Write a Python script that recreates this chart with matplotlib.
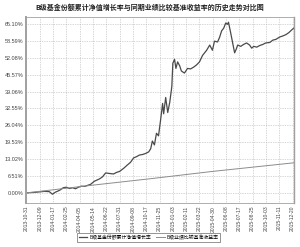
import matplotlib
matplotlib.use("Agg")
import matplotlib.pyplot as plt
import pandas as pd

plt.rcParams['font.family'] = ['Liberation Sans', 'Noto Sans CJK SC', 'DejaVu Sans']

title = "B级基金份额累计净值增长率与同期业绩比较基准收益率的历史走势对比图"
label_nav = "B级基金份额累计净值增长率"
label_bm = "B级业绩比较基准收益率"

nav_dates = ["2013-10-31", "2013-11-09", "2013-11-23", "2013-12-08", "2013-12-23", "2014-01-06",
             "2014-01-15", "2014-01-24", "2014-02-05", "2014-02-16", "2014-02-25", "2014-03-06",
             "2014-03-15", "2014-03-24", "2014-04-01", "2014-04-10", "2014-04-19", "2014-04-28",
             "2014-05-07", "2014-05-18", "2014-06-02", "2014-06-11", "2014-06-20", "2014-07-01",
             "2014-07-13", "2014-07-22", "2014-07-31", "2014-08-12", "2014-08-23", "2014-09-01",
             "2014-09-10", "2014-09-19", "2014-09-27", "2014-10-06", "2014-10-15", "2014-10-24",
             "2014-10-30", "2014-11-04", "2014-11-10", "2014-11-16", "2014-11-22", "2014-11-28",
             "2014-12-04", "2014-12-07", "2014-12-13", "2014-12-19", "2014-12-25", "2014-12-31",
             "2015-01-03", "2015-01-08", "2015-01-12", "2015-01-17", "2015-01-23", "2015-01-28",
             "2015-02-06", "2015-02-15", "2015-02-24", "2015-03-05", "2015-03-13", "2015-03-22",
             "2015-03-31", "2015-04-12", "2015-04-21", "2015-04-29", "2015-05-05", "2015-05-14",
             "2015-05-20", "2015-05-26", "2015-06-01", "2015-06-07", "2015-06-12", "2015-06-15",
             "2015-06-21", "2015-06-27", "2015-07-03", "2015-07-08", "2015-07-12", "2015-07-21",
             "2015-07-30", "2015-08-07", "2015-08-16", "2015-08-22", "2015-08-28", "2015-09-06",
             "2015-09-14", "2015-09-23", "2015-10-02", "2015-10-14", "2015-10-23", "2015-11-01",
             "2015-11-12", "2015-11-21", "2015-11-30", "2015-12-09", "2015-12-17", "2015-12-23"]
nav_values = [0.0, 0.1, 0.2, 0.4, 0.6, 0.5,
              -0.5, 0.3, 1.0, 2.0, 2.2, 1.7,
              2.0, 1.6, 2.2, 2.6, 2.5, 2.9,
              3.3, 4.5, 5.4, 6.2, 7.7, 7.5,
              7.3, 7.9, 8.3, 9.5, 10.8, 11.8,
              13.5, 14.0, 14.6, 14.8, 15.2, 15.8,
              17.0, 20.0, 18.5, 23.0, 22.0, 28.0,
              34.5, 30.5, 36.8, 31.0, 35.0, 41.0,
              50.0, 51.5, 48.0, 50.5, 49.0, 47.0,
              46.2, 48.0, 47.8, 48.5, 49.3, 50.5,
              53.0, 55.0, 57.0, 55.0, 58.5, 58.2,
              60.0, 62.5, 63.5, 65.5, 65.0, 65.8,
              62.0, 58.0, 54.0, 55.5, 57.0, 56.5,
              57.3, 57.8, 57.0, 55.8, 56.5, 56.2,
              56.8, 57.2, 57.8, 58.0, 58.9, 59.2,
              60.1, 60.5, 61.0, 61.8, 62.8, 63.5]

bm_dates = ["2013-10-31", "2014-04-30", "2014-10-31", "2015-04-30", "2015-12-23"]
bm_values = [0.0, 2.8, 5.5, 8.3, 11.6]

ytick_values = [0.00, 6.51, 13.02, 19.53, 26.04, 32.55, 39.06, 45.57, 52.08, 58.59, 65.10]
xtick_labels = ["2013-10-31", "2013-12-09", "2014-01-17", "2014-02-25", "2014-04-05", "2014-05-14",
                "2014-06-22", "2014-07-31", "2014-09-08", "2014-10-17", "2014-11-25", "2015-01-03",
                "2015-02-11", "2015-03-22", "2015-04-30", "2015-06-08", "2015-07-17", "2015-08-25",
                "2015-10-03", "2015-11-11", "2015-12-20"]

fig = plt.figure(figsize=(3.0, 2.47), dpi=100)
ax = fig.add_axes([0.087, 0.178, 0.893, 0.753])

nd = pd.to_datetime(nav_dates)
bd = pd.to_datetime(bm_dates)
l1, = ax.plot(nd, nav_values, color='#4a4a4a', lw=0.9)
l2, = ax.plot(bd, bm_values, color='#8c8c8c', lw=0.7)

xt = pd.to_datetime(xtick_labels)
ax.set_xticks(xt)
ax.set_xticklabels(xtick_labels, rotation=90, fontsize=3.6, color='#444444')
ax.set_yticks(ytick_values)
ax.set_yticklabels([f"{v:.2f}%" for v in ytick_values], fontsize=4, color='#444444')
ax.set_xlim(pd.Timestamp("2013-10-30"), pd.Timestamp("2015-12-24"))
ax.set_ylim(-3.9, 67.8)
ax.tick_params(length=0, pad=2)
ax.grid(True, color='#b0b0b0', lw=0.5, ls=(0, (1, 1.5)))
for s in ax.spines.values():
    s.set_color('#a0a0a0')
    s.set_linewidth(0.6)
ax.spines['left'].set_linewidth(1.4)
ax.spines['right'].set_linewidth(1.0)

fig.text(0.5, 0.972, title, ha='center', va='center', fontsize=5, fontweight='bold',
         family=['Noto Sans CJK SC'], color='#222222')

leg = fig.legend([l1, l2], [label_nav, label_bm], loc='center', bbox_to_anchor=(0.495, 0.04),
                 ncol=2, frameon=True, fancybox=False, edgecolor='#444444',
                 handlelength=1.8, handletextpad=0.4, columnspacing=1.0, borderpad=0.35,
                 prop={'family': ['Noto Sans CJK SC'], 'size': 3.5})
leg.get_frame().set_linewidth(0.5)

fig.savefig("out.png", dpi=100)
